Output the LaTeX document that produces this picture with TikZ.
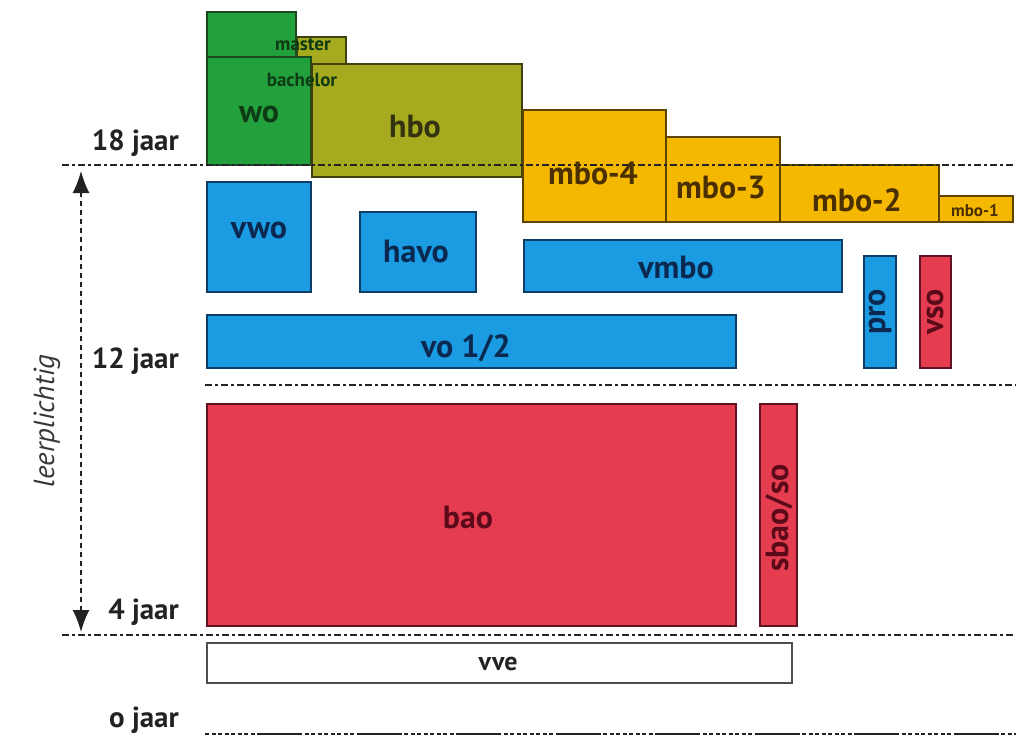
\documentclass[tikz,border=0pt]{standalone}
\usepackage{fontspec}
\setmainfont{PT Sans}
\usetikzlibrary{arrows.meta,fit}
\definecolor{gfill}{HTML}{22A03C}
\definecolor{gline}{HTML}{1A4A1E}
\definecolor{gtxt}{HTML}{0E3A14}
\definecolor{ofill}{HTML}{A6AA1E}
\definecolor{oline}{HTML}{3F400E}
\definecolor{otxt}{HTML}{333311}
\definecolor{yfill}{HTML}{F5B800}
\definecolor{yline}{HTML}{5C4400}
\definecolor{ytxt}{HTML}{4A3000}
\definecolor{bfill}{HTML}{1B9BE1}
\definecolor{bline}{HTML}{0B3D66}
\definecolor{btxt}{HTML}{0A2850}
\definecolor{rfill}{HTML}{E63C50}
\definecolor{rline}{HTML}{5E1420}
\definecolor{rtxt}{HTML}{5A0A18}
\definecolor{axis}{HTML}{222222}
\tikzset{
  box/.style={inner sep=0pt, outer sep=0pt, line width=1.8pt, draw},
  gbox/.style={box, fill=gfill, draw=gline},
  obox/.style={box, fill=ofill, draw=oline},
  ybox/.style={box, fill=yfill, draw=yline},
  bbox/.style={box, fill=bfill, draw=bline},
  rbox/.style={box, fill=rfill, draw=rline},
  wbox/.style={box, fill=white, draw=axis!80},
  lbl/.style={inner sep=0pt, font=\bfseries\fontsize{32}{34}\selectfont},
  small/.style={inner sep=0pt, font=\bfseries\fontsize{19}{20}\selectfont},
  agelbl/.style={inner sep=0pt, anchor=east, text=axis, font=\bfseries\fontsize{29}{31}\selectfont},
  ageline/.style={line width=1.5pt, draw=axis, dash pattern=on 7pt off 3pt on 3pt off 3pt},
  zeroline/.style={line width=1.6pt, draw=axis, dash pattern=on 4pt off 2.5pt on 4pt off 2.5pt on 4pt off 2.5pt on 4pt off 2.5pt on 4pt off 2.5pt on 4pt off 2.5pt on 4pt off 2.5pt on 4pt off 2.5pt on 45pt off 2.5pt},
  agetip/.tip={Latex[length=22pt, width=17pt]},
}
\begin{document}
\begin{tikzpicture}[x=1pt,y=-1pt]
\useasboundingbox (0,0) rectangle (1016,738);
% higher education
\node (hbom) [obox, fit={(297,37) (346,64)}] {};
\node (wom) [gbox, fit={(207,12) (296,57)}] {};
\node (wob) [gbox, fit={(207,57) (311,165)}] {};
\node (hbo) [obox, fit={(312,64) (522,177)}] {};
\node (mbo4) [ybox, fit={(523,110) (666,222)}] {};
\node (mbo3) [ybox, fit={(666,137) (780,222)}] {};
\node (mbo2) [ybox, fit={(780,165) (939,222)}] {};
\node (mbo1) [ybox, fit={(939,196) (1013,222)}] {};
% secondary
\node (vwo) [bbox, fit={(207,182) (311,292)}] {};
\node (havo) [bbox, fit={(360,212) (476,292)}] {};
\node (vmbo) [bbox, fit={(524,240) (842,292)}] {};
\node (pro) [bbox, fit={(864,256) (896,368)}] {};
\node (vso) [rbox, fit={(920,256) (951,368)}] {};
\node (vo) [bbox, fit={(207,315) (736,368)}] {};
% primary
\node (bao) [rbox, fit={(207,404) (736,626)}] {};
\node (sbao) [rbox, fit={(760,404) (797,626)}] {};
\node (vve) [wbox, fit={(207,643) (792,683)}] {};
% age lines
\coordinate (a18) at (62,165); \coordinate (b18) at (1016,165);
\coordinate (a12) at (205,385); \coordinate (b12) at (1016,385);
\coordinate (a4) at (62,635); \coordinate (b4) at (1016,635);
\coordinate (a0) at (205,734); \coordinate (b0) at (1016,734);
\draw[ageline] (a18) -- (b18);
\draw[ageline] (a12) -- (b12);
\draw[ageline] (a4) -- (b4);
\draw[zeroline] (a0) -- (b0);
% arrow
\coordinate (up) at (81,171); \coordinate (down) at (81,632);
\draw[line width=1.6pt, draw=axis, fill=axis, dash pattern=on 5pt off 4pt, agetip-agetip] (up) -- (down);
\node (leer) [inner sep=0pt, rotate=90, text=axis!90, font=\itshape\fontsize{29}{31}\selectfont] at (47,421) {leerplichtig};
% age labels
\node (t18) [agelbl] at (179,143) {18 jaar};
\node (t12) [agelbl] at (179,361) {12 jaar};
\node (t4) [agelbl] at (179,612) {4 jaar};
\node (t0) [agelbl] at (179,720) {o jaar};
% box labels
\node (lwo) [lbl, text=gtxt] at (259,115) {wo};
\node (lmaster) [small, text=gtxt] at (303,45) {master};
\node (lbach) [small, text=gtxt] at (302,80) {bachelor};
\node (lhbo) [lbl, text=otxt] at (415,127) {hbo};
\node (lmbo4) [lbl, text=ytxt] at (593,173) {mbo-4};
\node (lmbo3) [lbl, text=ytxt] at (721,188) {mbo-3};
\node (lmbo2) [lbl, text=ytxt] at (857,200) {mbo-2};
\node (lmbo1) [small, text=ytxt, font=\bfseries\fontsize{17}{18}\selectfont] at (975,211) {mbo-1};
\node (lvwo) [lbl, text=btxt] at (259,230) {vwo};
\node (lhavo) [lbl, text=btxt] at (416,252) {havo};
\node (lvmbo) [lbl, text=btxt] at (676,268) {vmbo};
\node (lpro) [lbl, text=btxt, rotate=90] at (pro.center) {pro};
\node (lvso) [lbl, text=rtxt, rotate=90] at (vso.center) {vso};
\node (lvo) [lbl, text=btxt] at (466,348) {vo 1/2};
\node (lbao) [lbl, text=rtxt] at (468,518) {bao};
\node (lsbao) [lbl, text=rtxt, rotate=90] at (779,518) {sbao/so};
\node (lvve) [lbl, text=axis, font=\bfseries\fontsize{26}{28}\selectfont] at (498,664) {vve};
\end{tikzpicture}
\end{document}
